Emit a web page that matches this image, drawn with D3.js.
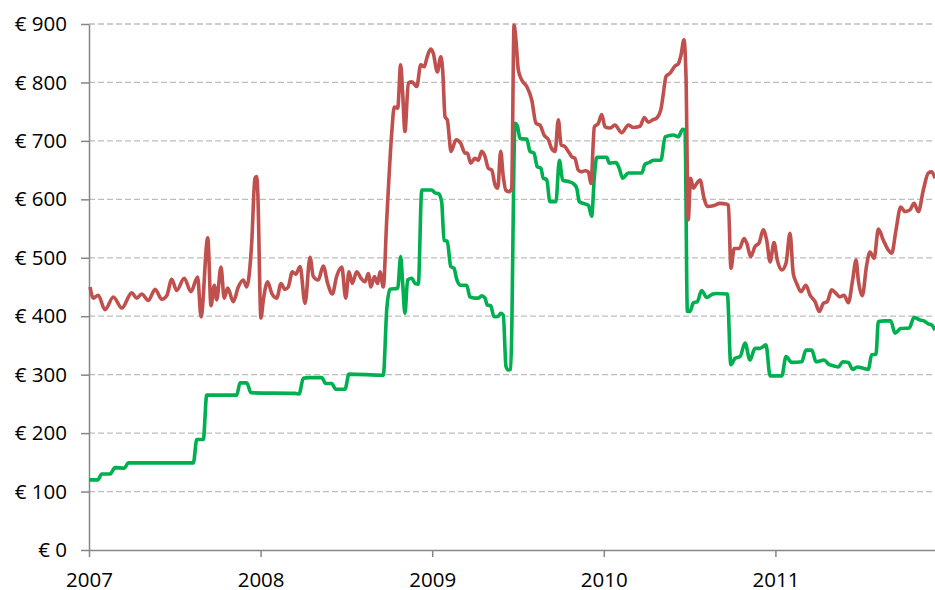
<!DOCTYPE html>
<html>
<head>
<meta charset="utf-8">
<script src="https://cdn.jsdelivr.net/npm/d3@7"></script>
<style>
  body { margin: 0; background: #fff; }
  .axis text { font-family: "Open Sans", sans-serif; font-size: 20.5px; fill: #000; }
  .axis path, .axis line { stroke: #868686; stroke-width: 1.5; }
</style>
</head>
<body>
<div id="chart"></div>
<script>
// time as decimal year, price in euro
const redSeries = [
  [2007.006,450],[2007.025,431],[2007.054,436],[2007.093,411],[2007.142,433],[2007.191,414],
  [2007.249,440],[2007.278,431],[2007.307,438],[2007.346,427],[2007.385,446],[2007.424,429],
  [2007.453,435],[2007.482,463],[2007.511,444],[2007.555,465],[2007.594,442],[2007.633,467],
  [2007.653,399],[2007.692,534],[2007.711,418],[2007.730,453],[2007.744,428],[2007.769,484],
  [2007.788,431],[2007.808,448],[2007.841,425],[2007.870,450],[2007.899,462],[2007.919,450],
  [2007.948,525],[2007.967,636],[2007.977,639],[2007.983,616],[2008.002,397],[2008.016,428],
  [2008.041,459],[2008.065,439],[2008.094,431],[2008.119,456],[2008.142,446],[2008.161,450],
  [2008.185,476],[2008.205,472],[2008.230,485],[2008.259,422],[2008.288,501],[2008.307,468],
  [2008.336,462],[2008.365,486],[2008.391,456],[2008.418,438],[2008.443,468],[2008.473,484],
  [2008.496,431],[2008.515,476],[2008.534,456],[2008.560,476],[2008.585,465],[2008.608,459],
  [2008.628,473],[2008.643,450],[2008.663,468],[2008.682,456],[2008.696,476],[2008.715,450],
  [2008.735,565],[2008.764,713],[2008.779,758],[2008.799,756],[2008.816,830],[2008.828,781],
  [2008.841,716],[2008.861,799],[2008.881,801],[2008.910,793],[2008.933,830],[2008.954,827],
  [2008.968,841],[2008.991,857],[2009.006,850],[2009.030,818],[2009.050,844],[2009.061,821],
  [2009.075,741],[2009.088,736],[2009.110,682],[2009.139,702],[2009.166,696],[2009.191,679],
  [2009.205,679],[2009.224,662],[2009.249,670],[2009.269,667],[2009.288,682],[2009.308,673],
  [2009.327,653],[2009.347,650],[2009.366,625],[2009.382,619],[2009.399,682],[2009.414,639],
  [2009.430,615],[2009.449,613],[2009.463,619],[2009.477,898],[2009.488,873],[2009.502,821],
  [2009.522,804],[2009.551,793],[2009.580,770],[2009.605,730],[2009.628,727],[2009.652,710],
  [2009.677,702],[2009.696,687],[2009.716,682],[2009.735,736],[2009.751,693],[2009.774,690],
  [2009.793,682],[2009.813,673],[2009.832,670],[2009.851,650],[2009.871,647],[2009.890,649],
  [2009.910,647],[2009.925,627],[2009.945,724],[2009.968,730],[2009.988,745],[2010.007,724],
  [2010.036,722],[2010.065,727],[2010.104,714],[2010.143,727],[2010.172,723],[2010.211,725],
  [2010.236,740],[2010.259,732],[2010.285,736],[2010.308,739],[2010.332,753],[2010.347,781],
  [2010.362,810],[2010.386,816],[2010.415,828],[2010.434,832],[2010.450,847],[2010.467,873],
  [2010.479,810],[2010.492,565],[2010.506,636],[2010.522,619],[2010.541,627],[2010.561,633],
  [2010.584,602],[2010.603,588],[2010.638,589],[2010.677,593],[2010.712,592],[2010.726,590],
  [2010.741,482],[2010.760,516],[2010.790,516],[2010.817,533],[2010.833,525],[2010.856,502],
  [2010.881,519],[2010.906,526],[2010.929,548],[2010.949,530],[2010.969,493],[2010.992,526],
  [2011.011,496],[2011.037,479],[2011.062,491],[2011.085,542],[2011.104,473],[2011.124,456],
  [2011.149,442],[2011.178,453],[2011.202,436],[2011.231,425],[2011.256,408],[2011.279,422],
  [2011.302,425],[2011.328,445],[2011.353,439],[2011.376,433],[2011.400,436],[2011.425,423],
  [2011.450,462],[2011.470,496],[2011.483,462],[2011.506,435],[2011.532,488],[2011.551,510],
  [2011.575,499],[2011.600,549],[2011.629,530],[2011.658,513],[2011.678,508],[2011.703,548],
  [2011.730,587],[2011.755,579],[2011.784,582],[2011.808,593],[2011.833,579],[2011.862,616],
  [2011.891,645],[2011.911,647],[2011.930,636]
]

const greenSeries = [
  [2007.000,120],[2007.051,120],[2007.074,130],[2007.122,130],[2007.152,141],[2007.206,140],
  [2007.229,149],[2007.608,149],[2007.628,189],[2007.666,189],[2007.686,265],[2007.861,265],
  [2007.880,286],[2007.919,286],[2007.944,269],[2008.200,268],[2008.224,267],[2008.249,294],
  [2008.278,295],[2008.356,295],[2008.379,285],[2008.414,285],[2008.438,275],[2008.492,275],
  [2008.515,301],[2008.715,299],[2008.735,411],[2008.754,446],[2008.799,448],[2008.816,502],
  [2008.828,456],[2008.841,405],[2008.857,462],[2008.881,465],[2008.900,456],[2008.919,455],
  [2008.939,616],[2008.997,616],[2009.016,611],[2009.036,610],[2009.055,596],[2009.069,530],
  [2009.088,528],[2009.108,485],[2009.127,482],[2009.143,463],[2009.166,453],[2009.201,453],
  [2009.220,433],[2009.249,431],[2009.269,431],[2009.288,435],[2009.308,431],[2009.321,419],
  [2009.341,418],[2009.360,399],[2009.385,400],[2009.399,405],[2009.414,402],[2009.430,314],
  [2009.443,308],[2009.457,309],[2009.483,730],[2009.496,726],[2009.512,704],[2009.551,703],
  [2009.570,682],[2009.593,679],[2009.612,656],[2009.634,653],[2009.647,636],[2009.667,634],
  [2009.686,596],[2009.721,596],[2009.741,667],[2009.760,633],[2009.799,630],[2009.822,627],
  [2009.842,619],[2009.857,596],[2009.880,593],[2009.910,590],[2009.929,571],[2009.945,639],
  [2009.959,672],[2009.997,672],[2010.017,672],[2010.032,662],[2010.071,663],[2010.090,653],
  [2010.110,636],[2010.143,645],[2010.221,645],[2010.240,660],[2010.265,663],[2010.288,667],
  [2010.333,667],[2010.357,707],[2010.406,710],[2010.434,707],[2010.460,720],[2010.473,719],
  [2010.487,408],[2010.502,408],[2010.522,423],[2010.545,425],[2010.570,444],[2010.600,432],
  [2010.635,438],[2010.658,439],[2010.720,438],[2010.740,317],[2010.765,328],[2010.794,331],
  [2010.823,354],[2010.852,325],[2010.881,345],[2010.910,345],[2010.945,351],[2010.969,298],
  [2011.037,298],[2011.062,331],[2011.095,321],[2011.153,322],[2011.178,342],[2011.212,342],
  [2011.237,322],[2011.283,325],[2011.314,317],[2011.341,315],[2011.367,313],[2011.392,322],
  [2011.425,321],[2011.450,309],[2011.477,313],[2011.512,311],[2011.541,309],[2011.561,334],
  [2011.586,335],[2011.600,391],[2011.639,392],[2011.672,392],[2011.697,371],[2011.730,379],
  [2011.780,380],[2011.808,398],[2011.839,394],[2011.866,392],[2011.891,387],[2011.911,385],
  [2011.930,376]
]

const yearTicks = [2007, 2008, 2009, 2010, 2011]
const priceTicks = [0, 100, 200, 300, 400, 500, 600, 700, 800, 900]
const xDomain = [2007, 2011.93]

const dimensions = {
  width: 935,
  height: 590,
  margin: { top: 24, bottom: 40, right: 0, left: 89 }
}
dimensions.ctrWidth = dimensions.width - dimensions.margin.left - dimensions.margin.right
dimensions.ctrHeight = dimensions.height - dimensions.margin.top - dimensions.margin.bottom

const svg = d3.select('#chart')
  .append('svg')
  .attr('width', dimensions.width)
  .attr('height', dimensions.height)

const ctr = svg.append('g')
  .attr('transform', `translate(${dimensions.margin.left}, ${dimensions.margin.top})`)

const xScale = d3.scaleLinear()
  .domain(xDomain)
  .range([0, dimensions.ctrWidth])

const yScale = d3.scaleLinear()
  .domain([0, 900])
  .range([dimensions.ctrHeight, 0])

// dashed gridlines
ctr.append('g')
  .selectAll('line')
  .data(priceTicks.filter(d => d > 0))
  .join('line')
  .attr('x1', 0)
  .attr('x2', dimensions.ctrWidth)
  .attr('y1', d => yScale(d))
  .attr('y2', d => yScale(d))
  .attr('stroke', '#bdbdbd')
  .attr('stroke-width', 1.3)
  .attr('stroke-dasharray', '6,3')

const yAxis = d3.axisLeft(yScale)
  .tickValues(priceTicks)
  .tickSize(8)
  .tickPadding(14)
  .tickSizeOuter(0)
  .tickFormat(d => '€ ' + d)

ctr.append('g')
  .classed('axis', true)
  .call(yAxis)

const xAxis = d3.axisBottom(xScale)
  .tickValues(yearTicks)
  .tickSize(7)
  .tickPadding(15)
  .tickSizeOuter(0)
  .tickFormat(d3.format('d'))

ctr.append('g')
  .classed('axis', true)
  .attr('transform', `translate(0, ${dimensions.ctrHeight})`)
  .call(xAxis)

const line = d3.line()
  .x(d => xScale(d[0]))
  .y(d => yScale(d[1]))
  .curve(d3.curveMonotoneX)

ctr.append('path')
  .datum(greenSeries)
  .attr('d', line)
  .attr('fill', 'none')
  .attr('stroke', '#00b050')
  .attr('stroke-width', 3.6)
  .attr('stroke-linejoin', 'round')

ctr.append('path')
  .datum(redSeries)
  .attr('d', line)
  .attr('fill', 'none')
  .attr('stroke', '#c0504d')
  .attr('stroke-width', 3.6)
  .attr('stroke-linejoin', 'round')
</script>
</body>
</html>
